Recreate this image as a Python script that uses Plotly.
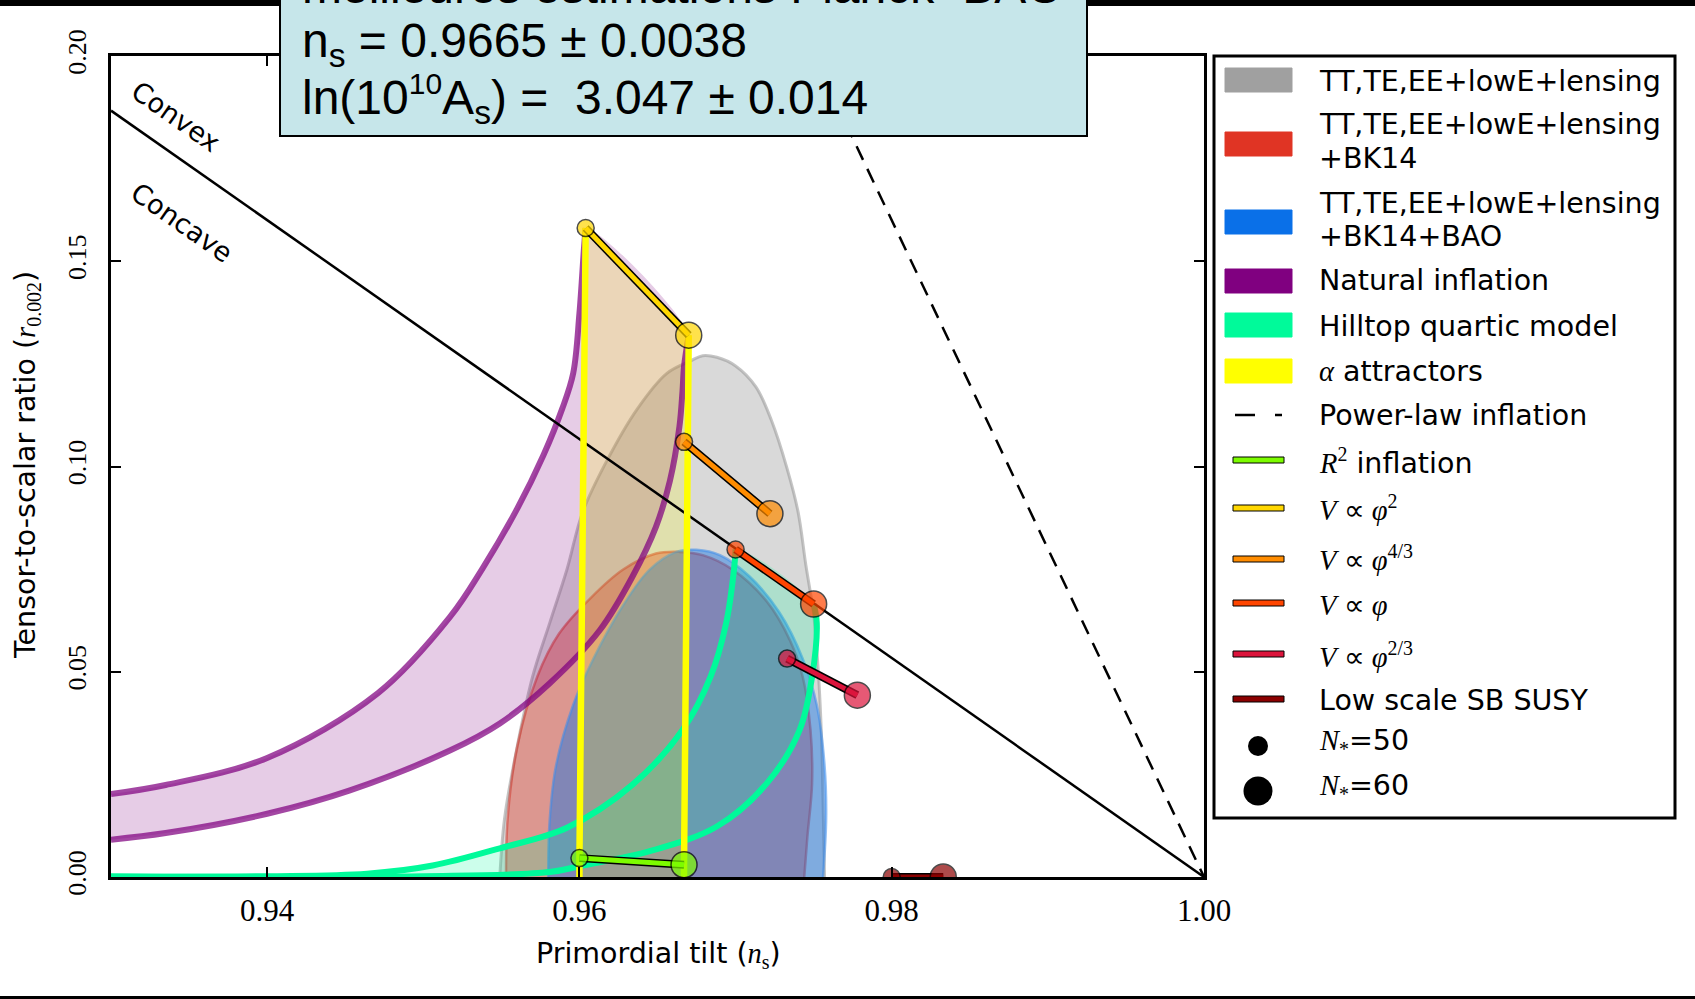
import plotly.graph_objects as go

# ---------------- data ----------------
# Planck 2018 joint constraints (closed outlines in the n_s - r plane)
tt_ns = [0.9549, 0.9552, 0.9560, 0.9570, 0.9581, 0.9592, 0.9602, 0.9617, 0.9637, 0.9656, 0.9671, 0.9679,
         0.9688, 0.9700, 0.9713, 0.9723, 0.9733, 0.9740, 0.9745, 0.9750, 0.9753, 0.9755, 0.9756, 0.9757]
tt_r = [0.0000, 0.0141, 0.0315, 0.0488, 0.0619, 0.0749, 0.0888, 0.1010, 0.1140, 0.1227, 0.1257, 0.1270,
        0.1266, 0.1245, 0.1194, 0.1112, 0.0995, 0.0890, 0.0760, 0.0640, 0.0500, 0.0345, 0.0187, 0.0000]

bk_ns = [0.9553, 0.9554, 0.9560, 0.9573, 0.9587, 0.9607, 0.9628, 0.9649, 0.9664, 0.9679, 0.9698, 0.9720,
         0.9735, 0.9743, 0.9748, 0.9749, 0.9746, 0.9744]
bk_r = [0.0000, 0.0141, 0.0315, 0.0488, 0.0593, 0.0679, 0.0749, 0.0788, 0.0792, 0.0784, 0.0749, 0.0671,
        0.0575, 0.0488, 0.0358, 0.0228, 0.0098, 0.0000]

bao_ns = [0.9580, 0.9581, 0.9585, 0.9596, 0.9609, 0.9628, 0.9645, 0.9662, 0.9675, 0.9690, 0.9709, 0.9728,
          0.9743, 0.9752, 0.9757, 0.9758, 0.9756]
bao_r = [0.0000, 0.0141, 0.0271, 0.0419, 0.0532, 0.0662, 0.0749, 0.0792, 0.0797, 0.0784, 0.0732, 0.0645,
         0.0532, 0.0419, 0.0271, 0.0141, 0.0000]

# Natural inflation, N*=50 and N*=60 edges
ni50_ns = [0.9300, 0.9335, 0.9400, 0.9471, 0.9517, 0.9538, 0.9560, 0.9577, 0.9589, 0.9596, 0.9600,
           0.9603, 0.9604]
ni50_r = [0.0202, 0.0224, 0.0290, 0.0448, 0.0633, 0.0752, 0.0896, 0.1028, 0.1141, 0.1227, 0.1373,
          0.1536, 0.1581]
ni60_ns = [0.9300, 0.9335, 0.9400, 0.9453, 0.9517, 0.9549, 0.9581, 0.9613, 0.9634, 0.9649, 0.9658,
           0.9664, 0.9666, 0.9667, 0.9670]
ni60_r = [0.0091, 0.0107, 0.0154, 0.0211, 0.0308, 0.0374, 0.0472, 0.0601, 0.0732, 0.0853, 0.0966,
          0.1096, 0.1183, 0.1244, 0.1320]

# Hilltop quartic model, N*=50 and N*=60 edges
hq50_ns = [0.9300, 0.9400, 0.9464, 0.9506, 0.9549, 0.9592, 0.9634, 0.9666, 0.9684, 0.9694, 0.9699, 0.9700]
hq50_r = [0.0001, 0.0002, 0.0008, 0.0028, 0.0070, 0.0120, 0.0225, 0.0358, 0.0488, 0.0619, 0.0749, 0.0798]
hq60_ns = [0.9300, 0.9500, 0.9581, 0.9602, 0.9645, 0.9688, 0.9720, 0.9741, 0.9749, 0.9752, 0.9750]
hq60_r = [0.0001, 0.0002, 0.0012, 0.0028, 0.0063, 0.0123, 0.0228, 0.0358, 0.0488, 0.0619, 0.0665]

# alpha attractors, N*=50 and N*=60 lines
aa50_ns = [0.9600, 0.9600, 0.9604]
aa50_r = [0.0000, 0.0046, 0.1581]
aa60_ns = [0.9667, 0.9667, 0.9670]
aa60_r = [0.0000, 0.0030, 0.1320]

# convex / concave boundary and power-law inflation
cc_ns = [0.930, 1.000]
cc_r = [0.1867, 0.0]
pl_ns = [0.975, 1.000]
pl_r = [0.200, 0.0]

# single-field models: (N*=50, N*=60)
model_colors = ["#7cfc00", "#ffd700", "#ff8c00", "#ff4500", "#dc143c", "#8b0000"]
model_ns50 = [0.9600, 0.9604, 0.9667, 0.9700, 0.9733, 0.9800]
model_r50 = [0.0046, 0.1581, 0.1060, 0.0798, 0.0532, 0.0000]
model_ns60 = [0.9667, 0.9670, 0.9722, 0.9750, 0.9778, 0.9833]
model_r60 = [0.0030, 0.1320, 0.0885, 0.0665, 0.0443, 0.0000]

x_ticks = [0.94, 0.96, 0.98, 1.00]
x_ticktext = ["0.94", "0.96", "0.98", "1.00"]
y_ticks = [0.00, 0.05, 0.10, 0.15, 0.20]
y_ticktext = ["0.00", "0.05", "0.10", "0.15", "0.20"]

box_lines = ["meilleures estimations Planck+BAO",
             "n<sub>s</sub> = 0.9665 ± 0.0038",
             "ln(10<sup><span style='font-size:30px'>10</span></sup>A<sub>s</sub>) = \u00a03.047 ± 0.014"]

SERIF = "Liberation Serif"
SANS = "DejaVu Sans"


def m(s):
    return f"<span style='font-family:{SERIF}'>{s}</span>"


legend_items = [
    ("patch", "#a0a0a0", ["TT,TE,EE+lowE+lensing"]),
    ("patch", "#e03424", ["TT,TE,EE+lowE+lensing", "+BK14"]),
    ("patch", "#0a70e8", ["TT,TE,EE+lowE+lensing", "+BK14+BAO"]),
    ("patch", "#800080", ["Natural inflation"]),
    ("patch", "#00fa9a", ["Hilltop quartic model"]),
    ("patch", "#ffff00", [m("<i>α</i>") + " attractors"]),
    ("dash", "black", ["Power-law inflation"]),
    ("bar", "#7cfc00", [m("<i>R</i><sup>2</sup>") + " inflation"]),
    ("bar", "#ffd700", [m("<i>V</i> \u221d <i>φ</i><sup>2</sup>")]),
    ("bar", "#ff8c00", [m("<i>V</i> \u221d <i>φ</i><sup>4/3</sup>")]),
    ("bar", "#ff4500", [m("<i>V</i> \u221d <i>φ</i>")]),
    ("bar", "#dc143c", [m("<i>V</i> \u221d <i>φ</i><sup>2/3</sup>")]),
    ("bar", "#8b0000", ["Low scale SB SUSY"]),
    ("dot", 20, [m("<i>N</i><sub>*</sub>") + "=50"]),
    ("dot", 29, [m("<i>N</i><sub>*</sub>") + "=60"]),
]
legend_text_y = [[81.7], [125, 158.3], [203.3, 236.7], [280.7], [326.7], [371.7], [415],
                 [461.7], [508], [558], [605.7], [655], [700], [741.7], [786.7]]
legend_mark_y = [80, 144, 222, 281, 325, 371, 415, 460, 508, 559, 603, 654, 699, 746, 791]

# ---------------- layout geometry ----------------
W, H = 1695, 999
ML, MR, MT, MB = 111, 491, 56, 122
PW, PH = W - ML - MR, H - MT - MB


def px(x):
    return (x - ML) / PW


def py(y):
    return (H - MB - y) / PH


fig = go.Figure()


def region(xs, ys, fill, line_color, lw):
    fig.add_trace(go.Scatter(x=xs, y=ys, mode="lines", fill="toself", fillcolor=fill,
                             line=dict(color=line_color, width=lw, shape="spline", smoothing=1.0),
                             hoverinfo="skip", showlegend=False))


def curve(xs, ys, color, lw, shape="spline", dash=None):
    fig.add_trace(go.Scatter(x=xs, y=ys, mode="lines",
                             line=dict(color=color, width=lw, shape=shape, smoothing=1.0, dash=dash),
                             hoverinfo="skip", showlegend=False))


# data constraints
region(tt_ns, tt_r, "rgba(128,128,128,0.30)", "rgba(150,150,150,0.55)", 3)
region(bk_ns, bk_r, "rgba(224,52,36,0.40)", "rgba(210,60,50,0.55)", 2.5)
region(bao_ns, bao_r, "rgba(10,112,232,0.43)", "rgba(60,140,235,0.55)", 2.5)

# model bands
region(ni50_ns + ni60_ns[::-1], ni50_r + ni60_r[::-1], "rgba(128,0,128,0.20)", "rgba(0,0,0,0)", 0)
region(hq50_ns + hq60_ns[::-1], hq50_r + hq60_r[::-1], "rgba(0,250,154,0.20)", "rgba(0,0,0,0)", 0)
fig.add_trace(go.Scatter(x=aa50_ns + aa60_ns[::-1], y=aa50_r + aa60_r[::-1], mode="lines", fill="toself",
                         fillcolor="rgba(255,255,0,0.20)", line=dict(width=0), hoverinfo="skip",
                         showlegend=False))

curve(ni50_ns, ni50_r, "rgba(128,0,128,0.72)", 6)
curve(ni60_ns, ni60_r, "rgba(128,0,128,0.72)", 6)
curve(hq50_ns, hq50_r, "#00fa9a", 6)
curve(hq60_ns, hq60_r, "#00fa9a", 6)

curve(cc_ns, cc_r, "black", 2.5, shape="linear")
curve(pl_ns, pl_r, "black", 2.5, shape="linear", dash="15px,10px")

curve(aa50_ns, aa50_r, "#ffff00", 6.5, shape="linear")
curve(aa60_ns, aa60_r, "#ffff00", 6.5, shape="linear")

for c, x0, y0, x1, y1 in zip(model_colors, model_ns50, model_r50, model_ns60, model_r60):
    curve([x0, x1], [y0, y1], "black", 8, shape="linear")
    curve([x0, x1], [y0, y1], c, 5, shape="linear")
    fig.add_trace(go.Scatter(x=[x0, x1], y=[y0, y1], mode="markers",
                             marker=dict(size=[17, 26], color=c, line=dict(color="black", width=1.5)),
                             hoverinfo="skip", showlegend=False))

shapes = []
ann = []


def label(text, x, y, size, family=SANS, angle=0, xanchor="center", yanchor="middle"):
    ann.append(dict(text=text, x=px(x), y=py(y), xref="paper", yref="paper", xanchor=xanchor,
                    yanchor=yanchor, textangle=angle, showarrow=False,
                    font=dict(family=family, size=size, color="black")))


# black bands at the top and bottom edges of the page
shapes.append(dict(type="rect", xref="paper", yref="paper", x0=px(-5), x1=px(W + 5), y0=py(6), y1=py(-5),
                   fillcolor="black", line=dict(width=0), layer="above"))
shapes.append(dict(type="rect", xref="paper", yref="paper", x0=px(-5), x1=px(W + 5), y0=py(W), y1=py(996),
                   fillcolor="black", line=dict(width=0), layer="above"))

# best-fit box
shapes.append(dict(type="rect", xref="paper", yref="paper", x0=px(280), x1=px(1087), y0=py(136), y1=py(-60),
                   fillcolor="#c6e6ea", line=dict(color="black", width=2), layer="above"))
for txt, yc in zip(box_lines, [-14, 44, 99]):
    label(txt, 300, yc, 48, family="Liberation Sans", xanchor="left")

# legend frame
shapes.append(dict(type="rect", xref="paper", yref="paper", x0=px(1214), x1=px(1675), y0=py(818), y1=py(56),
                   fillcolor="white", line=dict(color="black", width=3), layer="above"))

for (kind, col, lines), tys, my in zip(legend_items, legend_text_y, legend_mark_y):
    if kind == "patch":
        shapes.append(dict(type="rect", xref="paper", yref="paper", x0=px(1225), x1=px(1292),
                           y0=py(my + 12), y1=py(my - 12), fillcolor=col, line=dict(color=col, width=1),
                           layer="above"))
    elif kind == "dash":
        for a, b in [(1235, 1255), (1275, 1282)]:
            shapes.append(dict(type="line", xref="paper", yref="paper", x0=px(a), x1=px(b), y0=py(my),
                               y1=py(my), line=dict(color="black", width=2.5), layer="above"))
    elif kind == "bar":
        shapes.append(dict(type="rect", xref="paper", yref="paper", x0=px(1233), x1=px(1284),
                           y0=py(my + 3), y1=py(my - 3), fillcolor=col, line=dict(color="black", width=1),
                           layer="above"))
    else:
        r = col / 2
        shapes.append(dict(type="circle", xref="paper", yref="paper", x0=px(1258 - r), x1=px(1258 + r),
                           y0=py(my + r), y1=py(my - r), fillcolor="black", line=dict(width=0),
                           layer="above"))
    for t, ty in zip(lines, tys):
        label(t, 1317, ty, 28.5, xanchor="left")

# convex / concave labels
label("Convex", 176, 116, 27, angle=35)
label("Concave", 182, 222, 27, angle=35)

# axis titles
label("Primordial tilt (" + m("<i>n</i><sub>s</sub>") + ")", 658, 955, 28.5)
label("Tensor-to-scalar ratio (" + m("<i>r</i><sub>0.002</sub>") + ")", 27, 465, 28.5, angle=-90)

axis_common = dict(showline=True, linewidth=3, linecolor="black", mirror="ticks", ticks="inside",
                   ticklen=10, tickwidth=1.5, tickcolor="black", showgrid=False, zeroline=False)

fig.update_layout(
    width=W, height=H, margin=dict(l=ML, r=MR, t=MT, b=MB),
    paper_bgcolor="white", plot_bgcolor="white", showlegend=False,
    xaxis=dict(range=[0.93, 1.00], tickmode="array", tickvals=x_ticks, ticktext=x_ticktext,
               tickfont=dict(family=SERIF, size=31, color="black"), ticklabelstandoff=4, **axis_common),
    yaxis=dict(range=[0.0, 0.20], tickmode="array", tickvals=y_ticks, ticktext=y_ticktext, tickangle=-90,
               tickfont=dict(family=SERIF, size=26, color="black"), ticklabelstandoff=12, **axis_common),
    shapes=shapes, annotations=ann,
)

fig.write_html("out.html")
